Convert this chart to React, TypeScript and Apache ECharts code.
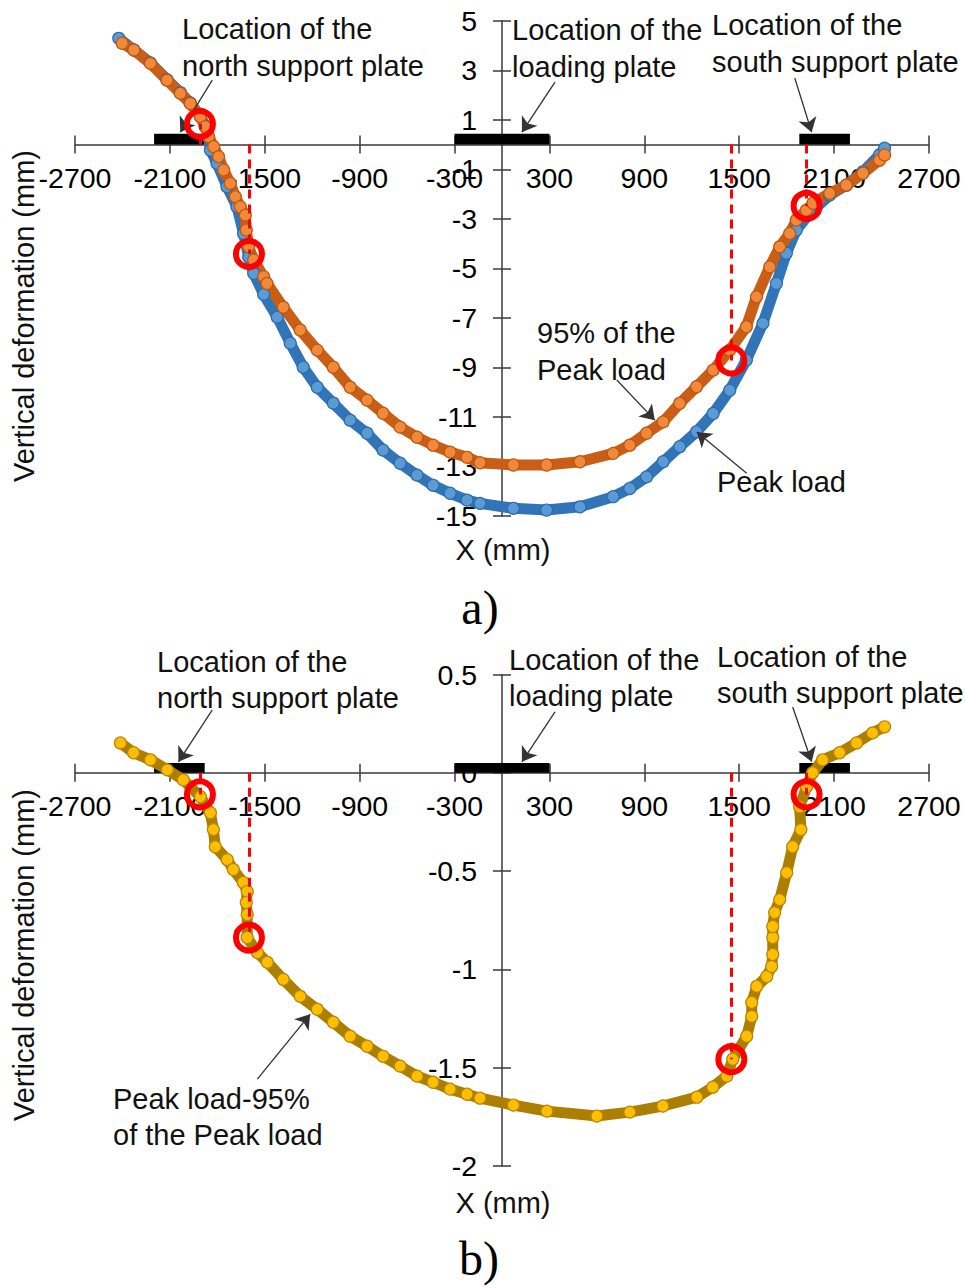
import React, { useEffect, useRef } from "react";
import * as echarts from "echarts";

// ---------- data ----------
const peakLoad: [number, number][] = [
  [-2423, 4.29], [-2328, 3.82], [-2223, 3.3], [-2118, 2.62], [-2034, 2.1], [-1971, 1.68],
  [-1907, 1.14], [-1876, 0.74], [-1855, 0.3], [-1844, -0.22], [-1802, -0.76], [-1739, -1.7],
  [-1676, -2.51], [-1634, -3.59], [-1602, -4.53], [-1570, -5.2], [-1507, -6.05], [-1421, -6.97],
  [-1339, -8.02], [-1257, -8.99], [-1168, -9.8], [-1067, -10.44], [-960, -11.13], [-853, -11.66],
  [-752, -12.34], [-644, -12.87], [-537, -13.35], [-436, -13.76], [-328, -14.08], [-221, -14.36],
  [-139, -14.49], [72, -14.69], [282, -14.76], [493, -14.63], [703, -14.22], [808, -13.89],
  [914, -13.42], [1019, -12.81], [1124, -12.2], [1230, -11.6], [1335, -10.86], [1440, -9.92],
  [1545, -8.7], [1650, -7.22], [1735, -5.61], [1798, -4.39], [1861, -3.45], [1945, -2.78],
  [2072, -2.04], [2177, -1.64], [2282, -1.1], [2387, -0.42], [2419, -0.15],
];

const peak95: [number, number][] = [
  [-2402, 4.09], [-2328, 3.82], [-2223, 3.28], [-2118, 2.6], [-2034, 2.07], [-1971, 1.66],
  [-1907, 1.12], [-1876, 0.72], [-1855, 0.32], [-1823, -0.09], [-1792, -0.49], [-1760, -1.03],
  [-1718, -1.57], [-1686, -2.11], [-1655, -2.51], [-1623, -2.85], [-1617, -3.45], [-1602, -4.13],
  [-1570, -4.66], [-1507, -5.34], [-1486, -5.61], [-1383, -6.57], [-1276, -7.49], [-1168, -8.3],
  [-1067, -8.99], [-960, -9.8], [-853, -10.32], [-752, -10.85], [-644, -11.41], [-537, -11.82],
  [-436, -12.14], [-328, -12.42], [-221, -12.63], [-139, -12.85], [72, -12.94], [282, -12.94],
  [493, -12.81], [703, -12.47], [808, -12.14], [914, -11.66], [1019, -11.2], [1124, -10.45],
  [1230, -9.78], [1335, -9.11], [1440, -8.3], [1545, -7.36], [1609, -6.15], [1693, -4.94],
  [1756, -4.13], [1819, -3.59], [1861, -3.05], [1924, -2.65], [1966, -2.37], [2072, -1.97],
  [2177, -1.64], [2282, -1.16], [2387, -0.63], [2419, -0.42],
];

const peakMinus95: [number, number][] = [
  [-2413, 0.152], [-2330, 0.102], [-2223, 0.066], [-2116, 0.015], [-2015, -0.036], [-1907, -0.122],
  [-1844, -0.203], [-1825, -0.289], [-1813, -0.376], [-1737, -0.442], [-1699, -0.492], [-1636, -0.558],
  [-1611, -0.604], [-1617, -0.66], [-1611, -0.721], [-1611, -0.838], [-1547, -0.914], [-1484, -0.964],
  [-1383, -1.051], [-1276, -1.137], [-1168, -1.203], [-1067, -1.269], [-960, -1.34], [-853, -1.391],
  [-752, -1.442], [-644, -1.492], [-537, -1.543], [-436, -1.574], [-328, -1.609], [-221, -1.635],
  [-139, -1.655], [72, -1.69], [284, -1.721], [600, -1.746], [808, -1.726], [1017, -1.695],
  [1232, -1.65], [1333, -1.599], [1421, -1.543], [1459, -1.457], [1547, -1.34], [1579, -1.239],
  [1579, -1.168], [1611, -1.086], [1674, -1.036], [1705, -0.985], [1712, -0.924], [1712, -0.838],
  [1712, -0.782], [1724, -0.711], [1756, -0.645], [1800, -0.508], [1838, -0.376], [1890, -0.289],
  [1882, -0.173], [1926, -0.071], [1964, 0.0], [2027, 0.066], [2135, 0.102], [2242, 0.152],
  [2343, 0.203], [2419, 0.234],
];

const topMarks: [number, number][] = [[-1910, 0.83], [-1600, -4.42], [1450, -8.72], [1926, -2.48]];
const bottomMarks: [number, number][] = [[-1910, -0.11], [-1600, -0.838], [1450, -1.457], [1926, -0.11]];

const plateSpans: [number, number][] = [[-2200, -1880], [-300, 300], [1880, 2200]];
const topPlateHeight = 0.44;
const bottomPlateHeight = 0.05;

const topArrows: [number, number][][] = [
  [[-1832, 2.6], [-2034, 0.5]],
  [[335, 2.52], [126, 0.5]],
  [[1851, 2.69], [1958, 0.5]],
  [[726, -9.51], [966, -11.13]],
  [[1547, -13.27], [1232, -11.61]],
];
const bottomArrows: [number, number][][] = [
  [[-1832, 0.32], [-2046, 0.056]],
  [[335, 0.31], [126, 0.056]],
  [[1838, 0.335], [1958, 0.056]],
  [[-1547, -1.558], [-1213, -1.228]],
];

const xRange = { min: -2700, max: 2700, interval: 600 };
const topY = { min: -15, max: 5, interval: 2 };
const bottomY = { min: -2, max: 0.5, interval: 0.5 };

// ---------- layout / styling ----------
const FONT = '"Liberation Sans", Arial, Helvetica, sans-serif';
const SERIF = '"Liberation Serif", "Times New Roman", serif';
const AX = "#3a3a3a";
const GRID_LEFT = 75;
const GRID_W = 854;
const grids = [
  { top: 20.75, height: 495.25, y: topY },
  { top: 674.5, height: 491.5, y: bottomY },
];

const tickStyle = { color: AX, width: 1.5 };

function xAxes(g: number) {
  const gy = grids[g];
  const off = -gy.height * (0 - gy.y.min) / (gy.y.max - gy.y.min);
  const base = {
    type: "value", gridIndex: g, ...xRange, position: "bottom", offset: off,
    splitLine: { show: false },
  };
  return [
    {
      ...base,
      axisLine: { show: true, onZero: false, lineStyle: tickStyle },
      axisTick: { show: true, length: 9, inside: false, lineStyle: tickStyle },
      axisLabel: { margin: 19, fontSize: 28.5, color: "#000", fontFamily: FONT, formatter: (v: number) => String(v) },
    },
    {
      ...base,
      axisLine: { show: false, onZero: false },
      axisTick: { show: true, length: 9, inside: true, lineStyle: tickStyle },
      axisLabel: { show: false },
    },
  ];
}

function yAxes(g: number) {
  const gy = grids[g];
  const off = -GRID_W * (0 - xRange.min) / (xRange.max - xRange.min);
  const base = {
    type: "value", gridIndex: g, ...gy.y, position: "left", offset: off,
    splitLine: { show: false },
  };
  return [
    {
      ...base,
      axisLine: { show: true, onZero: false, lineStyle: tickStyle },
      axisTick: { show: true, length: 9, inside: false, lineStyle: tickStyle },
      axisLabel: { margin: 25, fontSize: 28.5, color: "#000", fontFamily: FONT, formatter: (v: number) => String(v) },
    },
    {
      ...base,
      axisLine: { show: false, onZero: false },
      axisTick: { show: true, length: 9, inside: true, lineStyle: tickStyle },
      axisLabel: { show: false },
    },
  ];
}

function dataSeries(name: string, data: [number, number][], xi: number, yi: number, fill: string, edge: string, line: string) {
  return {
    name, type: "line", xAxisIndex: xi, yAxisIndex: yi, data,
    symbol: "circle", symbolSize: 12, showSymbol: true, showAllSymbol: true,
    itemStyle: { color: fill, borderColor: edge, borderWidth: 1.2, opacity: 1 },
    lineStyle: { color: line, width: 11 },
    emphasis: { disabled: true }, silent: true, z: 2,
  };
}

function markSeries(marks: [number, number][], xi: number, yi: number) {
  return {
    type: "scatter", xAxisIndex: xi, yAxisIndex: yi, data: marks,
    symbol: "circle", symbolSize: 26,
    itemStyle: { color: "rgba(0,0,0,0)", borderColor: "#ff0000", borderWidth: 6, opacity: 1 },
    emphasis: { disabled: true }, silent: true, z: 6,
    markLine: {
      silent: true, symbol: ["none", "none"], label: { show: false },
      lineStyle: { color: "#ff0000", width: 3, type: [9, 6], opacity: 1 },
      emphasis: { disabled: true },
      data: marks.map(([x, y]) => [{ coord: [x, 0] }, { coord: [x, y] }]),
    },
  };
}

function annotSeries(arrows: [number, number][][], plateH: number, xi: number, yi: number) {
  return {
    type: "line", xAxisIndex: xi, yAxisIndex: yi, data: [], silent: true, z: 4,
    markLine: {
      silent: true, symbol: ["none", "arrow"], symbolSize: 14, label: { show: false },
      lineStyle: { color: "#333", width: 1.3, type: "solid", opacity: 1 },
      itemStyle: { color: "#111" },
      emphasis: { disabled: true },
      data: arrows.map(([a, b]) => [{ coord: a }, { coord: b }]),
    },
    markArea: {
      silent: true, label: { show: false },
      itemStyle: { color: "#000000", opacity: 1, borderWidth: 0 },
      emphasis: { disabled: true },
      data: plateSpans.map(([a, b]) => [{ coord: [a, 0] }, { coord: [b, plateH] }]),
    },
  };
}

function txt(text: string, x: number, y: number, extra: any = {}) {
  return {
    type: "text", x, y, silent: true, z: 10, ...extra.el,
    style: {
      text, x: 0, y: 0, font: `29px ${FONT}`, fill: "#111", lineHeight: 37,
      align: "left", verticalAlign: "top", ...extra.style,
    },
  };
}

export default function App() {
  const ref = useRef<HTMLDivElement>(null);
  useEffect(() => {
    if (!ref.current) return;
    const chart = echarts.init(ref.current, null, { renderer: "svg" });
    const option: any = {
      animation: false,
      backgroundColor: "#ffffff",
      grid: grids.map((g) => ({
        left: GRID_LEFT, top: g.top, width: GRID_W, height: g.height,
        outerBoundsMode: "none", containLabel: false,
      })),
      xAxis: [...xAxes(0), ...xAxes(1)],
      yAxis: [...yAxes(0), ...yAxes(1)],
      series: [
        dataSeries("Peak load", peakLoad, 0, 0, "#5b9bd5", "#2b6cad", "#3175b8"),
        dataSeries("95% of the Peak load", peak95, 0, 0, "#f08a3a", "#c0560f", "#c95e16"),
        annotSeries(topArrows, topPlateHeight, 0, 0),
        markSeries(topMarks, 0, 0),
        dataSeries("Peak load-95% of the Peak load", peakMinus95, 2, 2, "#ffbf00", "#b5860a", "#ad7f00"),
        annotSeries(bottomArrows, bottomPlateHeight, 2, 2),
        markSeries(bottomMarks, 2, 2),
      ],
      graphic: [
        txt("Location of the\nnorth support plate", 182, 10),
        txt("Location of the\nloading plate", 512, 11),
        txt("Location of the\nsouth support plate", 712, 6),
        txt("95% of the\nPeak load", 537, 314),
        txt("Peak load", 717, 463),
        txt("Vertical deformation (mm)", 24, 316, { el: { rotation: Math.PI / 2 }, style: { align: "center", verticalAlign: "middle" } }),
        txt("X (mm)", 503, 550, { style: { align: "center", verticalAlign: "middle" } }),
        txt("a)", 480, 607, { style: { align: "center", verticalAlign: "middle", font: `48px ${SERIF}`, fill: "#000" } }),
        txt("Location of the\nnorth support plate", 157, 644, { style: { lineHeight: 36 } }),
        txt("Location of the\nloading plate", 509, 642, { style: { lineHeight: 36 } }),
        txt("Location of the\nsouth support plate", 717, 639, { style: { lineHeight: 36 } }),
        txt("Peak load-95%\nof the Peak load", 113, 1081, { style: { lineHeight: 36 } }),
        txt("Vertical deformation (mm)", 24, 955, { el: { rotation: Math.PI / 2 }, style: { align: "center", verticalAlign: "middle" } }),
        txt("X (mm)", 503, 1203, { style: { align: "center", verticalAlign: "middle" } }),
        txt("b)", 479, 1258, { style: { align: "center", verticalAlign: "middle", font: `48px ${SERIF}`, fill: "#000" } }),
      ],
    };
    chart.setOption(option);
    return () => chart.dispose();
  }, []);
  return (
    <div
      ref={ref}
      style={{ position: "absolute", left: 0, top: 0, width: 965, height: 1288, background: "#fff" }}
    />
  );
}
